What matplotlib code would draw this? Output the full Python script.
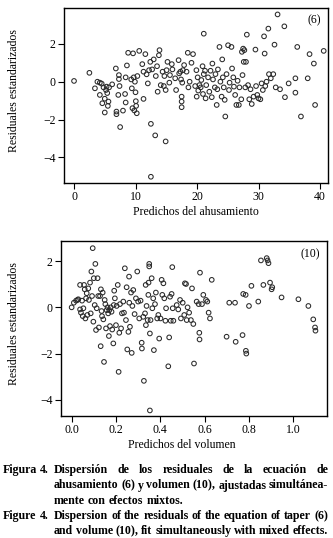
import matplotlib
matplotlib.use("Agg")
import matplotlib.pyplot as plt

plt.rcParams['font.family'] = ['Liberation Serif', 'DejaVu Serif']

# panel (6): predicted taper vs standardized residuals
taper_pred = [
    0.0, 2.5, 3.4, 3.8, 4.2, 4.2, 4.5, 4.6, 4.8, 5.0, 5.0, 5.2, 5.3, 5.4, 5.5, 5.6, 5.7, 6.2,
    6.8, 6.9, 6.9, 7.2, 7.3, 7.3, 7.4, 7.5, 7.96, 8.3, 8.4, 8.4, 8.6, 8.8, 9.3, 9.4, 9.5, 9.6,
    9.7, 9.8, 9.9, 10.0, 10.05, 10.1, 10.2, 10.3, 10.6, 11.1, 11.3, 11.3, 11.6, 11.8, 12.0, 12.2,
    12.4, 12.5, 12.5, 12.7, 12.96, 13.2, 13.3, 13.5, 13.6, 13.8, 13.9, 14.1, 14.4, 14.6, 14.7,
    14.9, 14.9, 15.05, 15.2, 15.5, 15.6, 15.9, 16.0, 16.45, 16.6, 17.0, 17.1, 17.3, 17.4, 17.5,
    17.5, 17.5, 17.6, 17.7, 17.9, 18.3, 18.5, 18.6, 18.8, 19.1, 19.35, 19.7, 19.9, 19.95, 20.1,
    20.2, 20.4, 20.6, 20.7, 20.9, 20.97, 21.1, 21.1, 21.3, 21.4, 21.5, 21.8, 22.0, 22.2, 22.4,
    22.5, 22.6, 22.9, 23.0, 23.2, 23.3, 23.4, 23.65, 23.8, 24.0, 24.1, 24.2, 24.35, 24.5, 24.6,
    24.8, 25.05, 25.2, 25.3, 25.6, 25.7, 25.9, 26.0, 26.2, 26.4, 26.6, 26.8, 26.9, 27.2, 27.3,
    27.4, 27.5, 27.6, 27.7, 27.85, 27.96, 28.1, 28.3, 28.5, 28.7, 28.9, 29.2, 29.5, 29.6, 29.8,
    30.0, 30.3, 30.5, 30.7, 30.9, 31.0, 31.1, 31.3, 31.6, 31.7, 32.0, 32.4, 32.6, 32.8, 33.1,
    33.5, 34.2, 34.3, 34.9, 36.0, 36.0, 36.3, 36.9, 38.0, 38.3, 39.0, 39.2, 40.6,
]
taper_resid = [
    0.04, 0.47, -0.35, 0.0, -0.05, -0.7, -0.1, -1.14, -0.3, -0.9, -1.63, -0.44, -0.26, -0.6,
    -1.28, -1.05, -0.3, -0.14, 0.7, -1.58, -1.72, -0.7, 0.35, 0.14, -0.23, -2.4, -1.53, -0.65,
    0.23, -1.1, 0.86, 1.53, 0.12, -0.35, -1.4, 1.5, 0.23, -1.52, 0.0, -0.56, -1.03, -1.28, -1.67,
    0.3, 1.63, 0.93, -0.91, 0.53, 1.46, 0.39, -0.09, 0.61, 1.05, -2.23, -5.03, 0.65, 1.18, -2.84,
    0.3, 0.82, -0.53, 1.4, 1.67, -0.18, 0.53, -0.23, 0.3, -3.16, -0.44, 0.61, 1.05, -0.05, 0.35,
    0.93, 0.65, 0.18, -0.44, 1.14, 0.44, 0.53, 0.12, -0.79, -1.05, -1.35, -0.05, 0.61, 0.88,
    0.53, 1.53, -0.3, 0.0, 1.0, 1.46, -0.23, 0.61, -0.79, 0.23, -0.47, -0.18, -0.3, 0.09, 0.82,
    -0.65, 2.54, 0.4, 0.58, -0.88, -0.18, 0.23, -0.53, 0.58, -0.82, 0.96, 0.12, -0.3, 0.4, -1.23,
    -0.4, 0.65, 1.84, 0.0, -0.79, 1.18, 0.23, -0.3, -0.96, -1.84, 0.4, 1.93, -0.44, -0.05, 1.84,
    0.7, 0.23, -0.26, -0.7, -1.23, 0.05, -1.23, -0.3, -0.93, 1.58, 0.35, 1.75, 1.05, 1.67, -0.3,
    1.05, 2.49, -0.18, -0.93, -0.4, -1.18, -0.79, 1.7, -0.23, -0.7, -0.88, -0.93, -0.09, -0.44,
    2.4, 1.49, -0.23, 0.0, 2.81, 0.4, 0.18, 0.4, 1.96, -0.3, 3.56, -0.4, 2.93, -0.82, -0.09,
    0.18, -0.58, 1.84, -1.84, 0.18, 1.46, 0.96, -1.23, 1.63,
]

# panel (10): predicted volume vs standardized residuals
vol_pred = [
    0.0, 0.01, 0.02, 0.026, 0.03, 0.038, 0.038, 0.042, 0.047, 0.05, 0.053, 0.056, 0.059, 0.062,
    0.065, 0.068, 0.071, 0.075, 0.078, 0.083, 0.086, 0.089, 0.092, 0.095, 0.098, 0.1, 0.104,
    0.107, 0.11, 0.113, 0.117, 0.12, 0.123, 0.128, 0.131, 0.132, 0.135, 0.137, 0.14, 0.143,
    0.146, 0.149, 0.152, 0.155, 0.158, 0.162, 0.165, 0.168, 0.17, 0.173, 0.176, 0.18, 0.183,
    0.188, 0.19, 0.192, 0.195, 0.2, 0.203, 0.208, 0.212, 0.215, 0.218, 0.223, 0.227, 0.233,
    0.236, 0.24, 0.245, 0.248, 0.251, 0.256, 0.259, 0.26, 0.263, 0.268, 0.271, 0.274, 0.278,
    0.284, 0.29, 0.296, 0.3, 0.305, 0.311, 0.316, 0.317, 0.323, 0.326, 0.331, 0.334, 0.335,
    0.338, 0.343, 0.346, 0.347, 0.35, 0.35, 0.353, 0.353, 0.356, 0.361, 0.364, 0.368, 0.371,
    0.376, 0.38, 0.386, 0.391, 0.395, 0.401, 0.406, 0.409, 0.414, 0.418, 0.423, 0.426, 0.436,
    0.44, 0.444, 0.447, 0.451, 0.454, 0.456, 0.459, 0.474, 0.481, 0.489, 0.493, 0.501, 0.508,
    0.511, 0.516, 0.519, 0.523, 0.53, 0.538, 0.543, 0.549, 0.552, 0.564, 0.573, 0.576, 0.577,
    0.579, 0.588, 0.594, 0.606, 0.612, 0.618, 0.624, 0.632, 0.699, 0.711, 0.737, 0.74, 0.771,
    0.774, 0.785, 0.786, 0.788, 0.8, 0.811, 0.842, 0.854, 0.865, 0.88, 0.884, 0.888, 0.895,
    0.902, 0.905, 0.947, 1.023, 1.068, 1.09, 1.098, 1.1,
]
vol_resid = [
    0.0, 0.2, 0.29, 0.32, 0.35, 0.97, -0.09, -0.23, 0.29, -0.38, -0.04, 0.97, 0.78, -0.48, 0.39,
    0.61, -0.33, 0.82, 0.32, 1.07, -0.26, 1.55, 0.49, 2.56, -0.62, 1.26, 0.1, 1.88, -0.98, -0.04,
    1.26, 0.49, -0.87, 0.49, -1.68, 0.78, -0.16, -0.38, 0.64, -0.52, -2.36, 0.32, 0.14, -0.91,
    -0.12, 0.0, -0.26, -1.24, -0.12, -0.81, 0.0, -0.19, -0.96, -1.56, 0.1, 0.72, 0.39, -0.77,
    0.06, 0.97, -2.79, -1.1, 0.14, -0.91, -0.26, 0.25, -0.23, 1.69, -0.55, 0.87, -1.82, -1.06,
    1.33, 0.2, -0.84, 0.64, -1.97, 0.06, 0.75, -0.29, 0.39, 1.55, 0.25, -0.48, 0.29, -1.53,
    -1.78, -0.41, -3.18, -0.26, 0.97, -0.77, 0.06, -0.55, 0.54, 1.07, 1.88, 1.77, -4.46, -1.13,
    -0.55, 1.26, -0.04, 0.39, -1.85, 0.14, 0.64, -0.48, -0.33, -1.35, -0.48, 1.19, 0.54, 1.04,
    0.39, -0.58, -0.04, -2.55, -1.3, 0.46, -0.58, 0.58, 1.74, -0.04, -0.58, 0.1, -0.09, 0.32,
    -0.48, 0.2, -0.33, 1.04, 1.01, -0.55, 0.0, -0.23, -0.55, 0.82, -0.72, -2.43, 0.25, 0.14,
    -1.1, -1.39, 1.5, 0.14, 0.54, 0.32, 0.25, -0.23, -0.48, 1.19, -1.27, 0.2, 0.2, -1.49, -1.2,
    0.58, 0.54, -1.88, -2.0, 0.06, 0.93, 0.25, 2.03, 0.97, 2.13, 2.03, 1.91, 1.07, 0.78, 0.87,
    0.43, 0.35, 0.06, -0.52, -0.87, -1.01,
]

caption_es = [
    "Dispersión de los residuales de la ecuación de",
    "ahusamiento (6) y volumen (10), ajustadas simultánea-",
    "mente con efectos mixtos.",
]
caption_en = [
    "Dispersion of the residuals of the equation of taper (6)",
    "and volume (10), fit simultaneously with mixed effects.",
]

W, H = 333, 538
fig = plt.figure(figsize=(W / 100, H / 100), dpi=100)


def box(l, t, r, b):
    return [l / W, 1 - b / H, (r - l) / W, (b - t) / H]


def style(ax):
    for s in ax.spines.values():
        s.set_linewidth(1.0)
    ax.tick_params(direction='out', length=4, width=0.8, labelsize=8.5, pad=2)


mk = dict(s=11, facecolors='none', edgecolors='#2a2a2a', linewidths=0.75)

ax1 = fig.add_axes(box(64, 8, 328, 183))
ax1.scatter(taper_pred, taper_resid, **mk)
ax1.set_xlim(-1.63, 41.3)
ax1.set_ylim(-5.36, 3.9)
ax1.set_xticks([0, 10, 20, 30, 40])
ax1.set_yticks([-4, -2, 0, 2])
ax1.set_yticklabels(['\u22124', '\u22122', '0', '2'])
ax1.set_xlabel('Predichos del ahusamiento', fontsize=8.5)
ax1.set_ylabel('Residuales estandarizados', fontsize=8.5)
ax1.xaxis.set_label_coords(0.5, -0.13)
ax1.yaxis.set_label_coords(-0.167, 0.53)
ax1.text(0.975, 0.93, '(6)', transform=ax1.transAxes, ha='right', va='center', fontsize=8.5)
style(ax1)

ax2 = fig.add_axes(box(61, 241, 327, 416))
ax2.scatter(vol_pred, vol_resid, **mk)
ax2.set_xlim(-0.048, 1.152)
ax2.set_ylim(-4.70, 2.87)
ax2.set_xticks([0.0, 0.2, 0.4, 0.6, 0.8, 1.0])
ax2.set_xticklabels(['0.0', '0.2', '0.4', '0.6', '0.8', '1.0'])
ax2.set_yticks([-4, -2, 0, 2])
ax2.set_yticklabels(['\u22124', '\u22122', '0', '2'])
ax2.set_xlabel('Predichos del volumen', fontsize=8.5)
ax2.set_ylabel('Residuales estandarizados', fontsize=8.5)
ax2.xaxis.set_label_coords(0.455, -0.13)
ax2.yaxis.set_label_coords(-0.154, 0.526)
ax2.text(0.975, 0.925, '(10)', transform=ax2.transAxes, ha='right', va='center', fontsize=8.5)
style(ax2)

# justified bold caption
renderer = fig.canvas.get_renderer()
cap_fs = 8.6


def put_line(text, x0, x1, y, justify=True):
    words = text.split(' ')
    arts = [fig.text(0, 1 - y / H, w, fontsize=cap_fs, fontweight='bold', va='center')
            for w in words]
    widths = [a.get_window_extent(renderer).width for a in arts]
    if justify and len(words) > 1:
        gap = (x1 - x0 - sum(widths)) / (len(words) - 1)
    else:
        gap = 3.0
    x = x0
    for a, wd in zip(arts, widths):
        a.set_x(x / W)
        x += wd + gap


put_line('Figura 4.', 3, 50, 470, justify=False)
put_line(caption_es[0], 54, 328, 470)
put_line(caption_es[1], 54, 328, 485.5)
put_line(caption_es[2], 54, 328, 501, justify=False)
put_line('Figure 4.', 3, 50, 516, justify=False)
put_line(caption_en[0], 54, 328, 516)
put_line(caption_en[1], 54, 328, 531)

fig.savefig('out.png', dpi=100)
